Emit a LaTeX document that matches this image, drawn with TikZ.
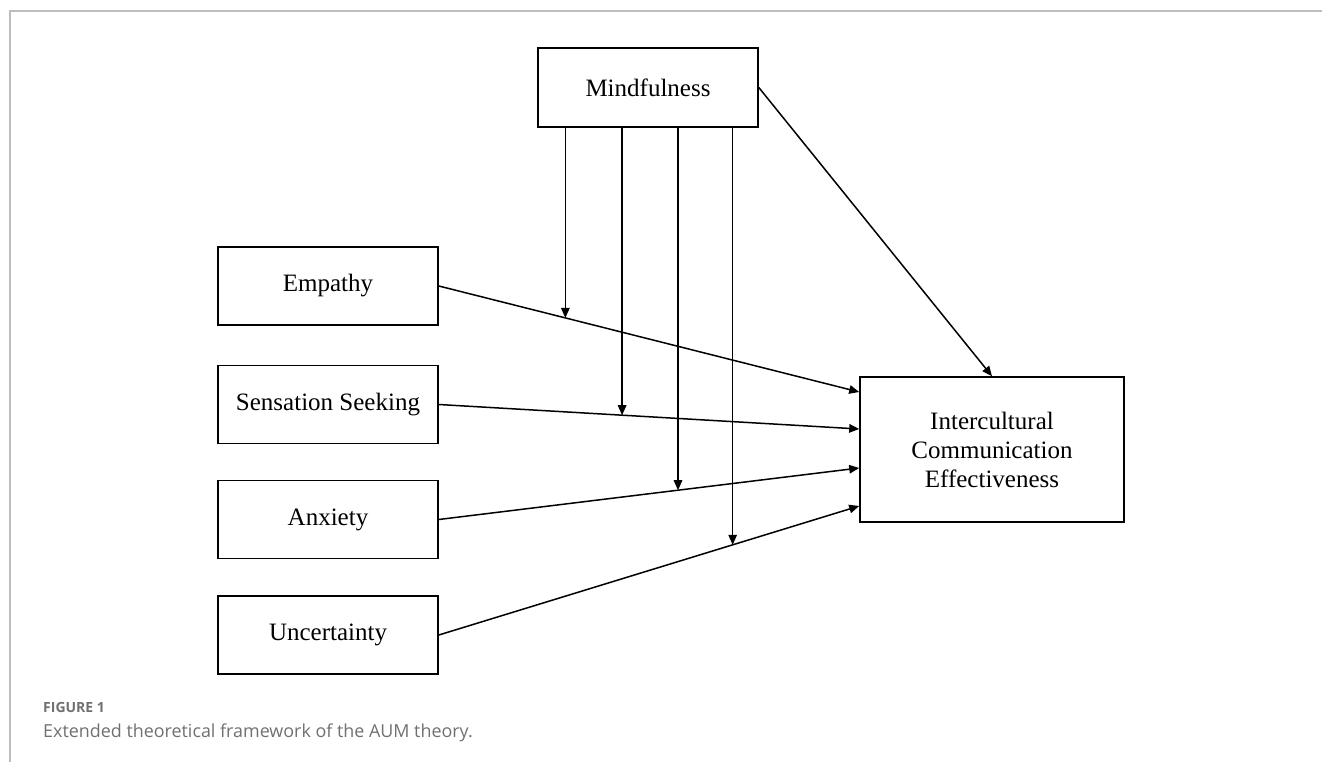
\documentclass[tikz,border=0pt]{standalone}
\usepackage{fontspec}
\setmainfont{Liberation Serif}
\newfontfamily\capfont{Open Sans}
\usetikzlibrary{arrows.meta,calc}
\definecolor{framegray}{HTML}{BDBDBD}
\definecolor{capgray}{HTML}{707070}
\begin{document}
\begin{tikzpicture}[x=1pt,y=-1pt,
  box/.style={draw=black,line width=1.6pt,rectangle,minimum width=220pt,minimum height=78pt,inner sep=0pt,font=\fontsize{25}{29}\selectfont,align=center},
  conn/.style={line width=1.5pt,-{Triangle[length=10pt,width=8.5pt]}},
  modline/.style={line width=1.5pt,-{Triangle[length=10pt,width=8.5pt]}}]
\useasboundingbox (0,0) rectangle (1322,762);
% frame
\draw[framegray,line width=1.8pt] (10,762) coordinate (fb) -- (10,11) coordinate (fc) -- (1322,11) coordinate (fr);
% nodes
\node[box,minimum height=79pt] (mind) at (648,87.5) {Mindfulness};
\node[box] (emp) at (328,286) {Empathy};
\node[box] (sen) at (328,404.5) {Sensation Seeking};
\node[box] (anx) at (328,519.5) {Anxiety};
\node[box] (unc) at (328,635) {Uncertainty};
\node[box,minimum width=264pt,minimum height=145pt] (ice) at (992,449.5) {Intercultural\\Communication\\Effectiveness};
% target points on ICE
\coordinate (t1) at ([yshift=57.5pt]ice.west);
\coordinate (t2) at ([yshift=20.5pt]ice.west);
\coordinate (t3) at ([yshift=-18.5pt]ice.west);
\coordinate (t4) at ([yshift=-56.5pt]ice.west);
% connectors
\draw[conn] (emp.east) -- (t1);
\draw[conn] (sen.east) -- (t2);
\draw[conn] (anx.east) -- (t3);
\draw[conn] (unc.east) -- (t4);
\draw[conn] (mind.east) -- (ice.north);
% moderation points
\coordinate (p1) at ($(emp.east)!0.301!(t1)$);
\coordinate (p2) at ($(sen.east)!0.436!(t2)$);
\coordinate (p3) at ($(anx.east)!0.569!(t3)$);
\coordinate (p4) at ($(unc.east)!0.699!(t4)$);
\draw[modline] (p1 |- mind.south) -- (p1);
\draw[modline] (p2 |- mind.south) -- (p2);
\draw[modline] (p3 |- mind.south) -- (p3);
\draw[modline] (p4 |- mind.south) -- (p4);
% caption
\node[anchor=base west,inner sep=0pt,text=capgray,font=\capfont\fontsize{14}{16}\selectfont\bfseries] (figlabel) at (43,712) {FIGURE 1};
\node[anchor=base west,inner sep=0pt,text=capgray,font=\capfont\fontsize{17.9}{22}\selectfont] (caption) at (43,737) {Extended theoretical framework of the AUM theory.};
\end{tikzpicture}
\end{document}
